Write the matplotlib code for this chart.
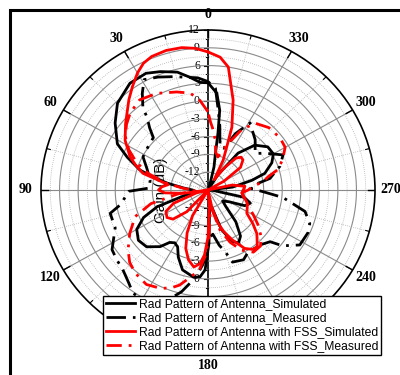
import numpy as np
import matplotlib
matplotlib.use('Agg')
import matplotlib.pyplot as plt
from matplotlib.patches import Rectangle

# angles in degrees (0 at top, counter-clockwise), gain in dB
ant_sim_ang = [0, 4, 9, 14, 21, 27, 35, 45, 53, 62, 67, 73, 76, 80, 85, 90, 97, 104, 109, 114,
               120, 127, 134, 141, 145, 149, 153, 157, 163, 171, 175, 178, 181, 185, 192, 198,
               204, 209, 214, 220, 226, 232, 240, 246, 252, 258, 264, 270, 277, 283, 287, 294,
               300, 307, 315, 322, 328, 335, 342, 346, 348.5, 350.5, 352, 355, 360]
ant_sim_gain = [3.1, 3.2, 4.3, 5.5, 6.4, 7.1, 7.0, 5.7, 3.8, 1.6, -0.8, -3.5, -5.8, -8.3, -11, -12.5,
                -13, -11, -6.3, -3.6, -1.7, -0.9, -1.2, -2.7, -4.2, -4.6, -4.2, -2.7, -0.9, -0.1,
                -0.3, -1.5, -6, -12, -12, -8, -5.5, -4.8, -5.6, -8, -11, -12, -11, -8.5, -7.8, -9,
                -14, -15, -11, -7.7, -5.4, -3.7, -2.8, -2.9, -4.3, -7.1, -12, -15, -14, -11, -9.3,
                -5.2, -1.4, 1.4, 3.1]

ant_meas_ang = [0, 5, 16, 23, 29, 33, 37, 39, 42, 45, 54, 62, 70, 80, 88, 91, 100, 104, 113, 123,
                129, 134, 141, 145, 152, 160, 166, 172, 176, 179, 182, 186, 191, 195, 198, 206,
                211, 222, 229, 232, 238, 246, 251, 257, 264, 268, 272, 278, 281, 289, 296, 304,
                309, 318, 329, 335, 340, 345, 350, 353, 356, 360]
ant_meas_gain = [3.3, 4.0, 4.9, 5.7, 6.3, 4.5, 2.5, 0.6, -0.9, -2.5, -2.9, -3.1, -4.5, -5.5, -5.5,
                 -2.2, -0.6, 1.3, 1.3, 3.5, 3.9, 4.2, 5.3, 6.2, 6.5, 5.0, 2.7, 0.0, -2.3, -4, -7,
                 -7.5, -5.5, -4.2, -2.2, -1.9, -2.6, -2.5, -1.7, 0.3, 2.5, 2.7, 2.4, 1.1, -2.8, -6,
                 -8, -6.8, -4.8, -2.7, -1.5, -3.9, -5.2, -3.6, -1.8, -4.5, -7.5, -7.5, -4, -1.4,
                 2.2, 3.3]

fss_sim_ang = [0, 5, 10, 16, 22, 26, 30, 35, 40, 45, 50, 58, 66, 70, 75, 78, 82, 86, 90, 94, 98,
               102, 105, 112, 118, 125, 131, 137, 142, 146, 150, 155, 160, 165, 170, 174, 177, 180,
               184, 188, 192, 196, 200, 205, 211, 216, 220, 227, 232, 238, 245, 251, 258, 265, 270,
               276, 282, 288, 295, 300, 306, 312, 316, 320, 325, 330, 334, 338, 340, 345, 351, 355,
               360]
fss_sim_gain = [8.3, 9.0, 9.4, 9.5, 9.3, 8.8, 7.8, 6.3, 4.9, 3.5, 2.4, 0.8, -1.2, -2.5, -4.1, -6.6,
                -8.5, -7.5, -7, -8, -11, -15, -13, -9, -7.3, -6.9, -7.5, -10, -15, -15, -10, -7,
                -4.5, -2.8, -1.8, -2.5, -4, -7, -12, -15, -12, -9.2, -7.5, -5.7, -3.5, -2.6, -2.6,
                -4.2, -5.8, -7.6, -8, -8.3, -9, -9.5, -9.3, -9, -11, -15, -15, -12, -8.5, -7.4,
                -7.3, -8, -10.5, -13, -9.4, -6.5, -3.7, 0.7, 6.0, 7.5, 8.3]

fss_meas_ang = [0, 5, 10, 17, 27, 36, 44, 50, 56, 62, 68, 74, 80, 86, 92, 98, 104, 111, 115, 120,
                128, 134, 140, 148, 155, 160, 164, 169, 174, 178, 181, 185, 190, 196, 202, 208,
                215, 222, 228, 234, 240, 248, 256, 265, 270, 274, 279, 283, 287, 293, 300, 307,
                317, 326, 332, 338, 344, 349, 352, 356, 358, 360]
fss_meas_gain = [-1.8, 0.2, 1.6, 2.3, 3.3, 3.8, 3.1, 2.2, 1.1, -0.5, -2.5, -5, -8, -11, -13, -10,
                 -5.5, -2.3, -1.6, -0.4, 1.4, 2.6, 3.3, 3.8, 3.3, 2.6, 1.7, 0.0, -1.4, -4, -7, -11,
                 -12, -8, -5.5, -3.5, -2.2, -2.3, -3.5, -5, -6.5, -8, -9, -9.5, -8.5, -7.9, -6,
                 -5, -3.2, -1.9, -0.6, -0.4, -0.6, -1.4, -3.5, -6.8, -9.2, -8.5, -6.5, -4.5, -3.5,
                 -1.8]

series_labels = ['Rad Pattern of Antenna_Simulated', 'Rad Pattern of Antenna_Measured',
                 'Rad Pattern of Antenna with FSS_Simulated', 'Rad Pattern of Antenna with FSS_Measured']
theta_ticks = list(range(0, 360, 30))
# 210 sits behind the legend in the original, so it gets no label
theta_labels = ['' if a == 210 else str(a) for a in theta_ticks]
r_ticks = [12, 9, 6, 3, 0, -3, -6, -9, -12]

R_MIN, R_MAX = -15, 12
SPAN = R_MAX - R_MIN

fig = plt.figure(figsize=(4, 3.75), dpi=100)
pos = [0.1025, 0.0667, 0.835, 0.8533]

# cartesian helper axes underneath: vertical scale line, ticks, labels
bg = fig.add_axes(pos)
bg.set_xlim(-SPAN, SPAN)
bg.set_ylim(-SPAN, SPAN)
bg.axis('off')
bg.plot([0, 0], [-SPAN, SPAN], color='black', lw=1.2, zorder=3)
for r in np.arange(-13.5, 12.1, 1.5):
    d = r - R_MIN
    L = 0.7 if (r % 3 == 0) else 0.4
    for y in (d, -d):
        bg.plot([-L, 0], [y, y], color='black', lw=0.8, zorder=3)
for r in r_ticks:
    d = r - R_MIN
    bg.text(-1.3, d, str(r), ha='right', va='center', fontsize=8.5, family='Liberation Serif')
    if r <= 0:
        bg.text(-1.3, -d, str(r), ha='right', va='center', fontsize=8.5, family='Liberation Serif')
bg.text(-7.6, 0, 'Gain (dB)', rotation=90, ha='center', va='center', fontsize=11,
        family='Liberation Sans')

ax = fig.add_axes(pos, projection='polar')
ax.set_aspect('auto')
ax.patch.set_alpha(0)
ax.set_theta_zero_location('N')
ax.set_theta_direction(1)
ax.set_ylim(R_MIN, R_MAX)
ax.set_yticks([])
ax.set_thetagrids(theta_ticks, theta_labels, fontsize=10, fontweight='bold',
                  family='Liberation Serif')
ax.tick_params(axis='x', pad=4, length=0)
ax.grid(False)
ax.spines['polar'].set_color('black')
ax.spines['polar'].set_linewidth(1.2)

# grid
tt = np.linspace(0, 2 * np.pi, 721)
for r in np.arange(-12, 12, 3):
    ax.plot(tt, np.full_like(tt, r), color='#8a8a8a', lw=0.8, zorder=1)
for r in np.arange(-13.5, 12, 3):
    ax.plot(tt, np.full_like(tt, r), color='#b0b0b0', lw=0.6, ls=(0, (1, 1.5)), zorder=1)
for a in range(0, 360, 30):
    t = np.deg2rad(a)
    if a % 180:
        ax.plot([t, t], [R_MIN, R_MAX], color='#8a8a8a', lw=0.8, zorder=1)
    ax.plot([t, t], [10.8, R_MAX], color='black', lw=1.0, zorder=2)
for a in range(15, 360, 30):
    t = np.deg2rad(a)
    ax.plot([t, t], [R_MIN, R_MAX], color='#b0b0b0', lw=0.6, ls=(0, (1, 1.5)), zorder=1)
    ax.plot([t, t], [11.4, R_MAX], color='black', lw=0.8, zorder=2)

styles = [
    (ant_sim_ang, ant_sim_gain, 'black', '-'),
    (ant_meas_ang, ant_meas_gain, 'black', (0, (7, 2.5, 1, 2.5))),
    (fss_sim_ang, fss_sim_gain, 'red', '-'),
    (fss_meas_ang, fss_meas_gain, 'red', (0, (5.5, 2.5, 1, 2.5))),
]
handles = []
for (a, g, c, ls), lab in zip(styles, series_labels):
    h, = ax.plot(np.deg2rad(a), np.clip(g, R_MIN, R_MAX), color=c, ls=ls, lw=2, zorder=4, label=lab)
    handles.append(h)

leg = ax.legend(handles=handles, loc='lower left', bbox_to_anchor=(103 / 400, 20 / 375),
                bbox_transform=fig.transFigure, prop={'family': 'Liberation Sans', 'size': 8.7},
                frameon=True, fancybox=False, framealpha=1, edgecolor='black',
                handlelength=2.4, handletextpad=0.3, labelspacing=0.15, borderpad=0.25,
                borderaxespad=0)
leg.get_frame().set_linewidth(1.0)
leg.set_zorder(10)

fig.add_artist(Rectangle((0.025, -0.2), 1.2, 0.973 + 0.2, transform=fig.transFigure,
                         fill=False, lw=2.2, ec='black', clip_on=False))

fig.savefig('out.png', dpi=100)
